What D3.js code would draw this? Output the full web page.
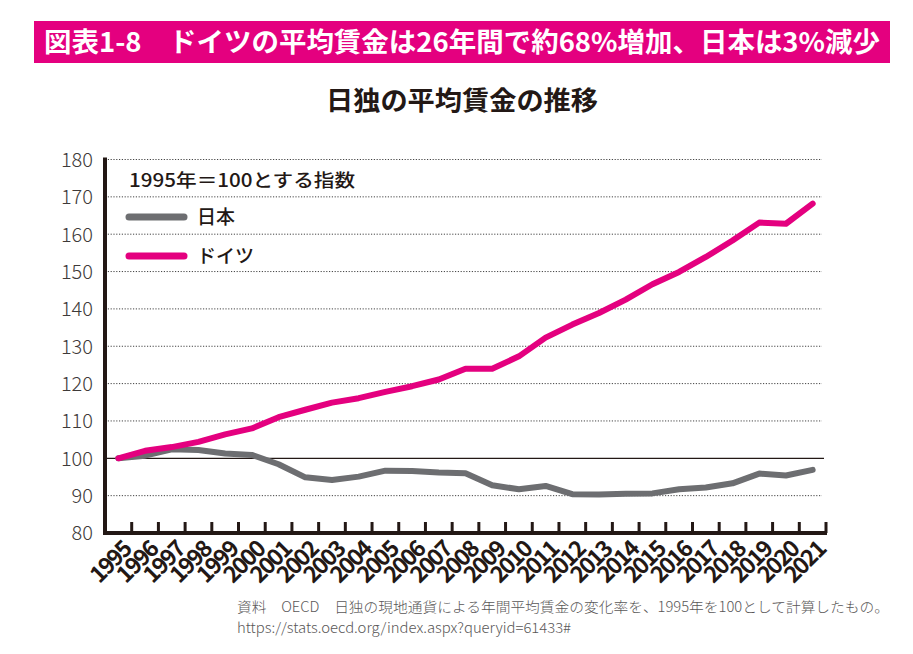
<!DOCTYPE html>
<html><head><meta charset="utf-8">
<script src="https://cdn.jsdelivr.net/npm/d3@7"></script>
<style>
body{margin:0;background:#fff;}
svg{display:block;}
text{font-family:"Noto Sans CJK JP","Noto Sans",sans-serif;}
</style></head>
<body>
<svg id="c" width="913" height="654"></svg>
<script>
const years = ["1995","1996","1997","1998","1999","2000","2001","2002","2003","2004","2005","2006","2007","2008","2009","2010","2011","2012","2013","2014","2015","2016","2017","2018","2019","2020","2021"];
const japan = [100,100.7,102.4,102.2,101.3,100.9,98.4,94.9,94.2,95.1,96.7,96.6,96.2,96.0,92.8,91.7,92.6,90.4,90.3,90.5,90.6,91.7,92.2,93.3,95.9,95.4,96.9];
const germany = [100,102.0,103.0,104.4,106.4,108.0,111.0,113.0,114.9,116.1,117.8,119.3,121.1,124.0,124.0,127.3,132.3,135.8,138.9,142.5,146.6,149.9,153.9,158.3,163.1,162.8,168.2];
const yTicks = [80,90,100,110,120,130,140,150,160,170,180];
const seriesNames = ["日本","ドイツ"];
const seriesColors = ["#6d6e71","#e4007f"];
const titleText = "図表1-8　ドイツの平均賃金は26年間で約68%増加、日本は3%減少";
const subtitleText = "日独の平均賃金の推移";
const legendTitle = "1995年＝100とする指数";
const noteLines = ["資料　OECD　日独の現地通貨による年間平均賃金の変化率を、1995年を100として計算したもの。","https://stats.oecd.org/index.aspx?queryid=61433#"];

const svg = d3.select("#c");
// Title bar
svg.append("rect").attr("x",34).attr("y",21).attr("width",856).attr("height",42).attr("fill","#e4007f");
svg.append("text").attr("x",44).attr("y",52).attr("fill","#fff").attr("font-size",27).attr("font-weight",700)
  .attr("textLength",836).attr("lengthAdjust","spacingAndGlyphs").text(titleText);
svg.append("text").attr("x",462).attr("y",110).attr("text-anchor","middle").attr("fill","#231815")
  .attr("font-size",26).attr("font-weight",700).attr("textLength",272).attr("lengthAdjust","spacingAndGlyphs").text(subtitleText);

const x0 = 105, x1 = 826;
const x = d3.scaleBand().domain(years).range([x0,x1]);
const y = d3.scaleLinear().domain([80,180]).range([533,159.5]);

// gridlines
svg.append("g").selectAll("line").data(yTicks.filter(v=>v!==80 && v!==100)).join("line")
  .attr("x1",x0).attr("x2",822).attr("y1",d=>y(d)).attr("y2",d=>y(d))
  .attr("stroke","#444").attr("stroke-width",1).attr("stroke-dasharray","1.2,1.6");
svg.append("line").attr("x1",x0).attr("x2",824).attr("y1",y(100)).attr("y2",y(100)).attr("stroke","#231815").attr("stroke-width",1.3);

// y labels
const yAxis = d3.axisLeft(y).tickValues(yTicks).tickSize(0).tickPadding(0);
const gy = svg.append("g").attr("transform",`translate(93,0)`).call(yAxis);
gy.select(".domain").remove();
gy.selectAll("text").attr("font-family","'Open Sans',sans-serif").attr("font-weight",300)
  .attr("font-size",20).attr("fill","#3e3a39").attr("dy","0.34em");

// x ticks (band boundaries)
const bounds = years.slice(1).map(d=>x(d)).concat([x1]);
svg.append("g").selectAll("line").data(bounds).join("line")
  .attr("x1",d=>d).attr("x2",d=>d).attr("y1",533).attr("y2",522)
  .attr("stroke","#231815").attr("stroke-width",3);
// axes lines
svg.append("path").attr("d",`M${x0},${y(180)-2}V533H${x1+1}`).attr("fill","none")
  .attr("stroke","#231815").attr("stroke-width",4);

// x labels
svg.append("g").selectAll("text").data(years).join("text")
  .attr("transform",d=>`translate(${x(d)+x.bandwidth()+1},551) rotate(-45)`)
  .attr("text-anchor","end").attr("font-family","'Open Sans',sans-serif").attr("font-weight",600)
  .attr("font-size",23).attr("fill","#231815").attr("letter-spacing","-1.8").text(d=>d);

// lines
const line = d3.line().x((d,i)=>x(years[i])+x.bandwidth()/2).y(d=>y(d));
[japan,germany].forEach((s,k)=>{
  svg.append("path").datum(s).attr("d",line).attr("fill","none").attr("stroke",seriesColors[k])
    .attr("stroke-width",6).attr("stroke-linejoin","round").attr("stroke-linecap","round");
});

// legend
svg.append("text").attr("x",129).attr("y",187).attr("font-size",18).attr("font-weight",500).attr("fill","#231815")
  .attr("textLength",226).attr("lengthAdjust","spacingAndGlyphs").text(legendTitle);
seriesNames.forEach((n,k)=>{
  const ly = 217 + k*39;
  svg.append("line").attr("x1",129).attr("x2",184).attr("y1",ly).attr("y2",ly)
    .attr("stroke",seriesColors[k]).attr("stroke-width",7).attr("stroke-linecap","round");
  svg.append("text").attr("x",197).attr("y",ly).attr("dy","0.36em").attr("font-size",19).attr("font-weight",500)
    .attr("fill","#231815").text(n);
});

// notes
noteLines.forEach((t,i)=>{
  const tx = svg.append("text").attr("x",237).attr("y",612+i*21).attr("font-size",14).attr("font-weight",300)
    .attr("fill","#595757").text(t);
  if(i===0) tx.attr("textLength",652).attr("lengthAdjust","spacingAndGlyphs");
  else tx.attr("textLength",334).attr("lengthAdjust","spacingAndGlyphs");
});
</script>
</body></html>
